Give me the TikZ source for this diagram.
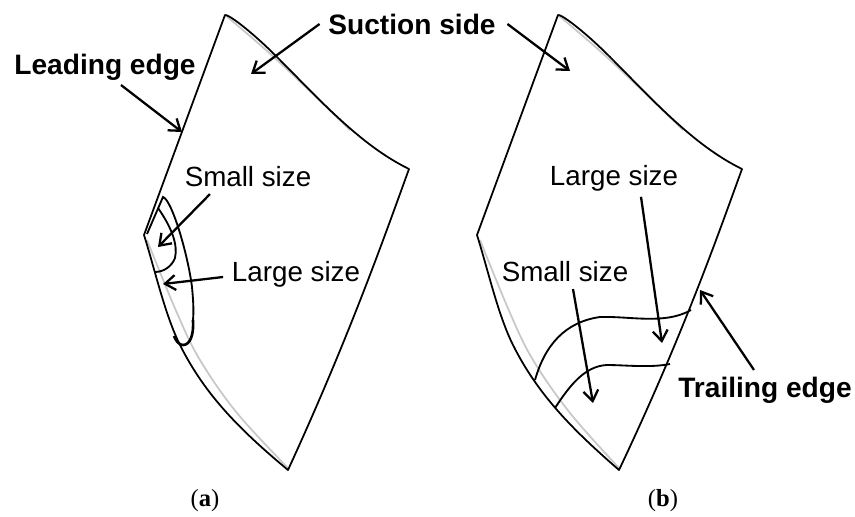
\documentclass[tikz,border=0pt]{standalone}
\usepackage{fontspec}
\setmainfont{Liberation Sans}
\newfontfamily\captionfont{Liberation Serif}
\definecolor{shadowgray}{RGB}{200, 200, 200}
\usetikzlibrary{arrows.meta, positioning, calc}
\tikzset{
  outline/.style={draw=black, line width=1pt, line join=round},
  hiddenedge/.style={draw=shadowgray, line width=1pt},
  sizeline/.style={draw=black, line width=1.05pt},
  pointer/.style={draw=black, line width=1.3pt, -{Straight Barb[length=6pt, width=8.5pt, line width=1.3pt]}},
  boldlabel/.style={font=\fontsize{16}{18}\selectfont\bfseries, inner sep=2pt},
  plainlabel/.style={font=\fontsize{15.8}{18}\selectfont, inner sep=2pt},
  sublabel/.style={font=\captionfont\fontsize{14}{16}\selectfont, inner sep=0pt}
}

\begin{document}
\begin{tikzpicture}[x=0.02cm, y=-0.02cm]
    \useasboundingbox (0,0) rectangle (855,517);

    % Blade outlines
    \foreach \sx/\tipx in {0/288,333/286}{
      \begin{scope}[xshift=\sx*0.02cm]
        \draw[hiddenedge] plot[smooth, tension=0.6] coordinates
          {(225,15) (277,60) (350,130)};
        \draw[hiddenedge] plot[smooth, tension=0.6] coordinates
          {(147,240) (177,313) (200,360) (237,413) (\tipx,468)};
        \draw[outline] (144,235) -- (225,15)
          .. controls (228,14) and (250,30) .. (277,57)
          .. controls (320,100) and (360,145) .. (409,169)
          .. controls (385,235) and (350,335) .. (\tipx,470)
          .. controls (240,430) and (205,395) .. (180,345)
          .. controls (165,315) and (155,270) .. cycle;
      \end{scope}
    }

    % Damage zones on (a)
    \draw[sizeline] (147,234) -- (163,197)
      .. controls (172,200) and (188,255) .. (192,287)
      .. controls (193,298) and (194,310) .. (193,320);
    \draw[line width=1.5pt] (193,320) .. controls (194,335) and (190,345) .. (183,345)
      .. controls (179,345) and (176,341) .. (174,336);
    \draw[sizeline] (158,208) .. controls (172,228) and (178,245) .. (175,258)
      .. controls (172,266) and (164,272) .. (155,272);

    % Damage zones on (b)
    \draw[sizeline] (535,380) .. controls (545,345) and (565,322) .. (600,317)
      .. controls (630,316) and (665,325) .. (691,310);
    \draw[sizeline] (555,408) .. controls (570,385) and (585,366) .. (607,365)
      .. controls (625,365) and (650,368) .. (670,364);

    % Labels
    \node[boldlabel] (suction) at (412,24) {Suction side};
    \node[boldlabel] (leading) at (105,67) {Leading edge};
    \node[boldlabel] (trailing) at (765,390) {Trailing edge};
    \node[plainlabel] (smallA) at (248,177) {Small size};
    \node[plainlabel] (largeA) at (296,274) {Large size};
    \node[plainlabel] (largeB) at (614,178) {Large size};
    \node[plainlabel] (smallB) at (565,272) {Small size};
    \node[sublabel] (capA) at (205,501) {(\textbf{a})};
    \node[sublabel] (capB) at (663,501) {(\textbf{b})};

    % Arrow tips
    \coordinate (tipSuctionA) at (251,74);
    \coordinate (tipSuctionB) at (570,71);
    \coordinate (tipLeading) at (182,132);
    \coordinate (tipTrailing) at (700,290);
    \coordinate (tipSmallA) at (158,247);
    \coordinate (tipLargeA) at (163,284);
    \coordinate (tipLargeB) at (662,343);
    \coordinate (tipSmallB) at (593,403);

    % Arrows
    \draw[pointer] ($(suction.west)+(-5,0)$) -- (tipSuctionA);
    \draw[pointer] ($(suction.east)+(8,0)$) -- (tipSuctionB);
    \draw[pointer] ($(leading.south)+(16,1)$) -- (tipLeading);
    \draw[pointer] ($(trailing.north)+(-11,-3)$) -- (tipTrailing);
    \draw[pointer] ($(smallA.south)+(-38,3)$) -- (tipSmallA);
    \draw[pointer] ($(largeA.west)+(-5,3)$) -- (tipLargeA);
    \draw[pointer] ($(largeB.south)+(27,2)$) -- (tipLargeB);
    \draw[pointer] ($(smallB.south)+(8,3)$) -- (tipSmallB);
\end{tikzpicture}
\end{document}
